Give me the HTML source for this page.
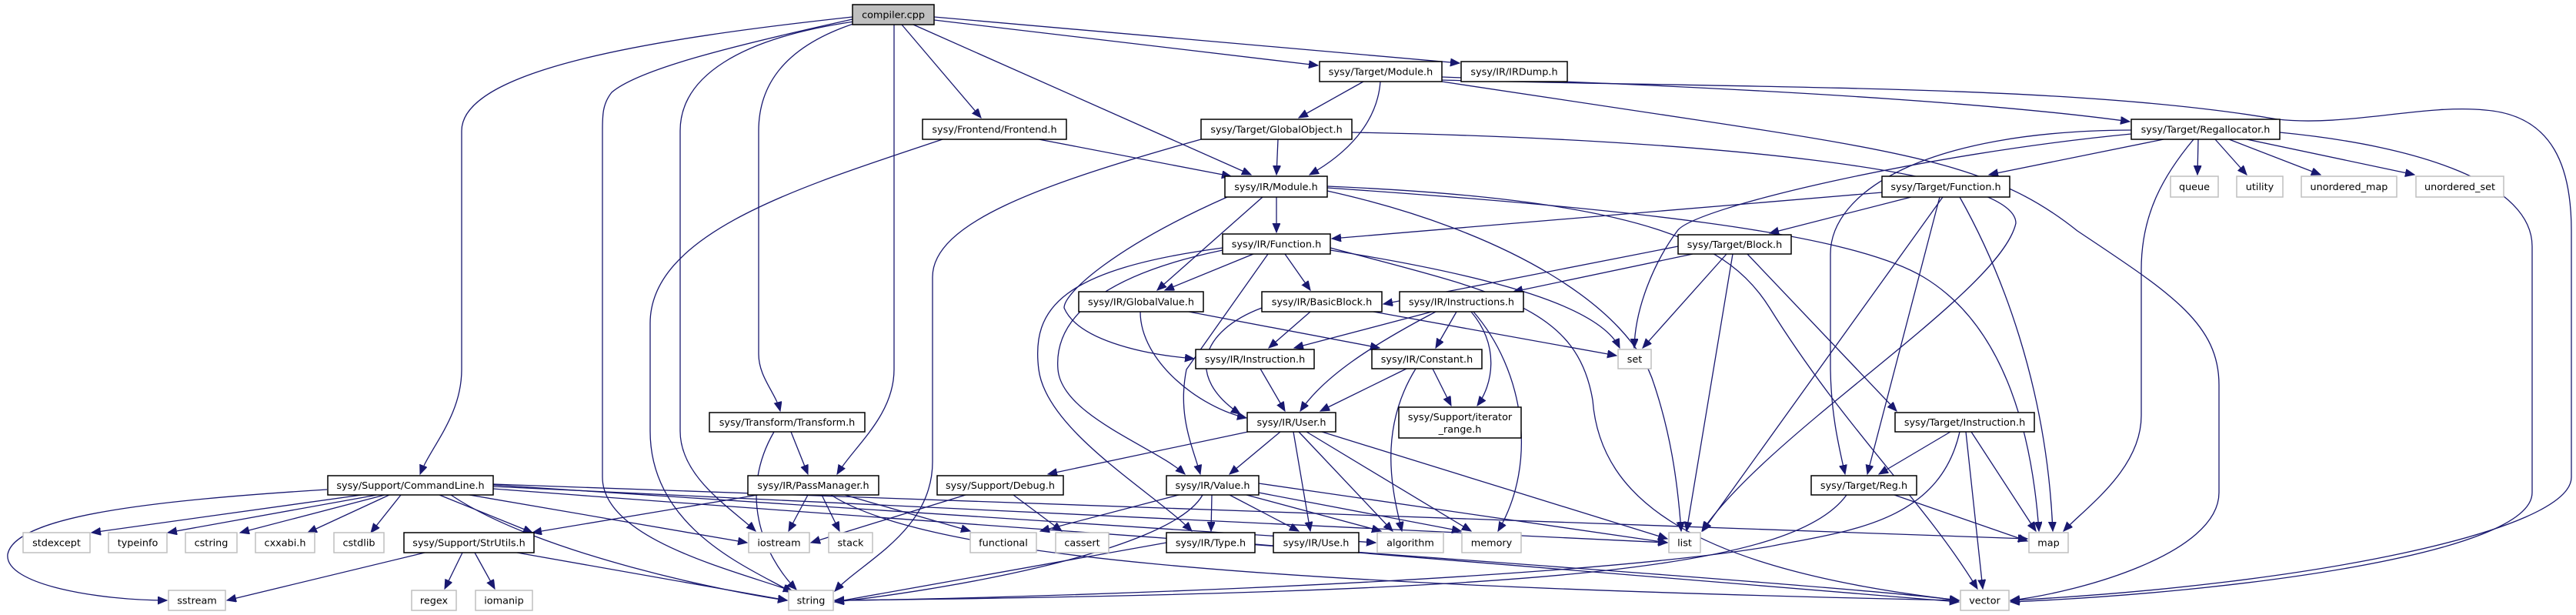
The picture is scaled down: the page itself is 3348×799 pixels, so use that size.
<!DOCTYPE html>
<html><head><meta charset="utf-8"><style>
html,body{margin:0;padding:0;background:#fff;}
svg{display:block;}
text{font-family:"DejaVu Sans","Liberation Sans",sans-serif;font-size:12.8px;fill:#000;}
.e{fill:none;stroke:#191970;stroke-width:1.3;marker-end:url(#a);}
.n{fill:#fff;stroke:#000;stroke-width:1.5;}
.g{fill:#fff;stroke:#bfbfbf;stroke-width:1.5;}
</style></head><body>
<svg width="3348" height="799" viewBox="0 0 3348 799" xmlns="http://www.w3.org/2000/svg">
<defs><marker id="a" markerUnits="userSpaceOnUse" markerWidth="14" markerHeight="12" refX="12" refY="5" orient="auto"><path d="M0,0 L12,5 L0,10 z" fill="#191970" stroke="#191970"/></marker></defs>
<g>
<!-- compiler -->
<path class="e" d="M1108,22 C850,50 600,90 600,170 L600,480 C600,540 560,580 546,616"/>
<path class="e" d="M1108,25 C950,60 830,90 795,120 C783,135 783,150 783,170 L783,620 C783,700 950,740 1030,768"/>
<path class="e" d="M1110,28 C960,50 884,100 884,170 L884,560 C884,620 950,660 982,690"/>
<path class="e" d="M1112,30 C1020,60 986,110 986,170 L986,460 C986,490 1008,510 1014,534"/>
<path class="e" d="M1162,32 L1162,480 C1162,540 1110,580 1088,616"/>
<path class="e" d="M1172,32 L1275,153"/>
<path class="e" d="M1187,32 L1626,227"/>
<path class="e" d="M1214,26 L1713,85"/>
<path class="e" d="M1214,22 L1897,82"/>
<!-- frontend -->
<path class="e" d="M1225,181 C1050,240 845,300 845,420 L845,560 C845,690 980,740 1030,770"/>
<path class="e" d="M1350,181 L1600,229"/>
<!-- globalobject -->
<path class="e" d="M1661,181 L1659,227"/>
<path class="e" d="M1561,181 C1350,240 1212,290 1212,360 L1212,600 C1212,690 1120,730 1085,768"/>
<path class="e" d="M1757,172 C2200,180 2620,220 2620,290 C2600,380 2300,560 2212,690"/>
<!-- target module -->
<path class="e" d="M1772,106 L1688,153"/>
<path class="e" d="M1794,106 C1790,160 1750,200 1702,227"/>
<path class="e" d="M1874,100 C2300,115 2600,135 2768,158"/>
<path class="e" d="M1874,104 C2300,115 2700,110 2960,155 C3050,165 3150,135 3230,143 C3320,150 3342,220 3342,300 L3342,620 C3342,690 3000,760 2613,780"/>
<path class="e" d="M1874,106 L2200,155 C2500,200 2600,220 2700,300 C2820,380 2884,420 2884,500 L2884,640 C2884,720 2700,770 2613,780"/>
<!-- regallocator -->
<path class="e" d="M2812,181 L2585,227"/>
<path class="e" d="M2857,181 L2856,227"/>
<path class="e" d="M2879,181 L2920,227"/>
<path class="e" d="M2897,181 L3016,227"/>
<path class="e" d="M2920,181 L3138,227"/>
<path class="e" d="M2963,172 C3150,190 3291,240 3291,320 L3291,640 C3291,720 2900,770 2613,782"/>
<path class="e" d="M2851,181 C2810,230 2783,280 2783,350 L2783,540 C2783,610 2710,660 2682,690"/>
<path class="e" d="M2770,169 C2500,170 2379,250 2379,330 L2379,480 C2380,540 2390,580 2398,616"/>
<path class="e" d="M2770,174 C2500,200 2200,270 2180,300 C2150,340 2125,400 2124,452"/>
<!-- target function -->
<path class="e" d="M2446,250 L1731,310"/>
<path class="e" d="M2484,256 L2300,303"/>
<path class="e" d="M2521,256 L2427,616"/>
<path class="e" d="M2525,256 L2213,690"/>
<path class="e" d="M2547,256 C2600,350 2660,500 2668,690"/>
<!-- target block -->
<path class="e" d="M2181,320 L1798,395"/>
<path class="e" d="M2200,330 L1967,379"/>
<path class="e" d="M2244,330 L2135,452"/>
<path class="e" d="M2252,330 L2192,690"/>
<path class="e" d="M2271,330 L2465,534"/>
<!-- target instruction -->
<path class="e" d="M2535,561 L2442,616"/>
<path class="e" d="M2562,561 L2646,690"/>
<path class="e" d="M2555,561 L2577,765"/>
<path class="e" d="M2547,561 C2520,680 2400,690 2300,710 C2000,760 1200,780 1085,780"/>
<!-- reg -->
<path class="e" d="M2462,643 L2635,703"/>
<path class="e" d="M2400,643 C2330,740 2000,770 1085,780"/>
<!-- IR module -->
<path class="e" d="M1659,256 L1659,302"/>
<path class="e" d="M1641,256 L1504,377"/>
<path class="e" d="M1595,256 C1450,320 1383,380 1383,400 C1400,440 1480,460 1552,466"/>
<path class="e" d="M1725,248 C1960,300 2120,400 2150,500 C2170,560 2180,620 2185,690"/>
<path class="e" d="M1725,244 C2100,270 2400,300 2500,360 C2600,420 2640,550 2650,690"/>
<path class="e" d="M1725,242 C2150,260 2250,320 2300,400 C2400,560 2500,650 2570,765"/>
<!-- IR function -->
<path class="e" d="M1629,330 L1514,377"/>
<path class="e" d="M1670,330 L1703,377"/>
<path class="e" d="M1648,330 L1542,480 C1530,540 1550,580 1560,616"/>
<path class="e" d="M1729,325 C1950,360 2080,400 2105,452"/>
<path class="e" d="M1729,322 C1950,380 2050,400 2070,520 C2080,650 2200,740 2546,780"/>
<path class="e" d="M1589,322 C1380,350 1340,400 1350,480 C1360,560 1500,640 1549,690"/>
<path class="e" d="M1589,325 C1420,360 1370,420 1375,480 C1380,540 1500,580 1540,616"/>
<!-- globalvalue / basicblock / instructions -->
<path class="e" d="M1482,405 C1482,470 1560,530 1620,543"/>
<path class="e" d="M1545,405 L1793,452"/>
<path class="e" d="M1703,405 L1649,452"/>
<path class="e" d="M1785,405 L2101,462"/>
<path class="e" d="M1640,400 C1560,430 1540,490 1612,538"/>
<path class="e" d="M1861,405 L1682,452"/>
<path class="e" d="M1866,405 C1780,450 1720,490 1690,534"/>
<path class="e" d="M1893,405 L1866,452"/>
<path class="e" d="M1912,405 C1950,450 1940,500 1920,527"/>
<path class="e" d="M1915,405 C1980,480 2000,600 1947,690"/>
<path class="e" d="M1828,479 L1716,534"/>
<path class="e" d="M1862,479 L1886,527"/>
<path class="e" d="M1840,479 C1790,560 1810,640 1822,690"/>
<path class="e" d="M1638,479 L1670,534"/>
<!-- user -->
<path class="e" d="M1622,561 L1362,616"/>
<path class="e" d="M1664,561 L1598,616"/>
<path class="e" d="M1681,561 L1703,690"/>
<path class="e" d="M1688,561 L1810,690"/>
<path class="e" d="M1698,561 L1912,690"/>
<path class="e" d="M1718,561 L2167,700"/>
<!-- value -->
<path class="e" d="M1532,643 L1352,690"/>
<path class="e" d="M1575,643 L1574,690"/>
<path class="e" d="M1598,643 L1688,690"/>
<path class="e" d="M1620,643 L1795,690"/>
<path class="e" d="M1636,640 L1899,690"/>
<path class="e" d="M1636,628 L2167,705"/>
<path class="e" d="M1563,643 C1520,720 1200,770 1085,782"/>
<!-- debug / type -->
<path class="e" d="M1255,643 L1054,705"/>
<path class="e" d="M1317,643 L1380,690"/>
<path class="e" d="M1516,705 L1085,782"/>
<path class="e" d="M1631,707 L2546,782"/>
<!-- passmanager / transform -->
<path class="e" d="M1050,643 L1025,690"/>
<path class="e" d="M1068,643 L1091,690"/>
<path class="e" d="M1098,643 L1261,690"/>
<path class="e" d="M985,643 L692,692"/>
<path class="e" d="M1080,643 C1200,720 1600,760 2546,780"/>
<path class="e" d="M1028,561 L1050,616"/>
<path class="e" d="M1006,561 C960,640 990,720 1035,766"/>
<!-- commandline -->
<path class="e" d="M470,643 L119,692"/>
<path class="e" d="M490,643 L218,692"/>
<path class="e" d="M500,643 L312,692"/>
<path class="e" d="M506,643 L400,692"/>
<path class="e" d="M521,643 L482,692"/>
<path class="e" d="M425,636 C200,650 20,670 10,720 C5,760 130,780 217,780"/>
<path class="e" d="M571,643 L692,692"/>
<path class="e" d="M610,643 L971,705"/>
<path class="e" d="M586,643 C700,720 950,770 1023,780"/>
<path class="e" d="M641,630 L1788,705"/>
<path class="e" d="M641,632 L2167,705"/>
<path class="e" d="M641,635 C1500,700 2400,760 2546,780"/>
<path class="e" d="M641,629 L2635,700"/>
<!-- strutils -->
<path class="e" d="M552,718 L295,780"/>
<path class="e" d="M601,718 L578,765"/>
<path class="e" d="M617,718 L643,765"/>
<path class="e" d="M672,718 L1023,780"/>
</g>
<g text-anchor="middle">
<rect x="1108" y="6" width="106" height="26" fill="#bfbfbf" stroke="#000" stroke-width="1.5"/><text x="1161" y="23.5">compiler.cpp</text>
<rect class="n" x="1715" y="80" width="159" height="26"/><text x="1794.5" y="97.5">sysy/Target/Module.h</text>
<rect class="n" x="1899" y="80" width="138" height="26"/><text x="1968" y="97.5">sysy/IR/IRDump.h</text>
<rect class="n" x="1199" y="155" width="187" height="26"/><text x="1292.5" y="172.5">sysy/Frontend/Frontend.h</text>
<rect class="n" x="1561" y="155" width="196" height="26"/><text x="1659" y="172.5">sysy/Target/GlobalObject.h</text>
<rect class="n" x="2770" y="155" width="193" height="26"/><text x="2866.5" y="172.5">sysy/Target/Regallocator.h</text>
<rect class="n" x="1592" y="229" width="133" height="27"/><text x="1658.5" y="247">sysy/IR/Module.h</text>
<rect class="n" x="2446" y="229" width="166" height="27"/><text x="2529" y="247">sysy/Target/Function.h</text>
<rect class="g" x="2821" y="229" width="62" height="27"/><text x="2852" y="247">queue</text>
<rect class="g" x="2907" y="229" width="60" height="27"/><text x="2937" y="247">utility</text>
<rect class="g" x="2991" y="229" width="124" height="27"/><text x="3053" y="247">unordered_map</text>
<rect class="g" x="3140" y="229" width="114" height="27"/><text x="3197" y="247">unordered_set</text>
<rect class="n" x="1589" y="304" width="140" height="26"/><text x="1659" y="321.5">sysy/IR/Function.h</text>
<rect class="n" x="2181" y="305" width="147" height="25"/><text x="2254.5" y="322">sysy/Target/Block.h</text>
<rect class="n" x="1402" y="379" width="162" height="26"/><text x="1483" y="396.5">sysy/IR/GlobalValue.h</text>
<rect class="n" x="1640" y="379" width="156" height="26"/><text x="1718" y="396.5">sysy/IR/BasicBlock.h</text>
<rect class="n" x="1819" y="379" width="161" height="26"/><text x="1899.5" y="396.5">sysy/IR/Instructions.h</text>
<rect class="n" x="1554" y="454" width="154" height="25"/><text x="1631" y="471">sysy/IR/Instruction.h</text>
<rect class="n" x="1783" y="454" width="143" height="25"/><text x="1854.5" y="471">sysy/IR/Constant.h</text>
<rect class="g" x="2103" y="454" width="43" height="25"/><text x="2124.5" y="471">set</text>
<rect class="n" x="922" y="536" width="202" height="25"/><text x="1023" y="553">sysy/Transform/Transform.h</text>
<rect class="n" x="1621" y="536" width="115" height="25"/><text x="1678.5" y="553">sysy/IR/User.h</text>
<rect class="n" x="1818" y="529" width="159" height="40"/><text x="1897.5" y="546">sysy/Support/iterator</text><text x="1897.5" y="562">_range.h</text>
<rect class="n" x="2463" y="536" width="181" height="25"/><text x="2553.5" y="553">sysy/Target/Instruction.h</text>
<rect class="n" x="426" y="618" width="215" height="25"/><text x="533.5" y="635">sysy/Support/CommandLine.h</text>
<rect class="n" x="972" y="618" width="170" height="25"/><text x="1057" y="635">sysy/IR/PassManager.h</text>
<rect class="n" x="1218" y="618" width="164" height="25"/><text x="1300" y="635">sysy/Support/Debug.h</text>
<rect class="n" x="1516" y="618" width="120" height="25"/><text x="1576" y="635">sysy/IR/Value.h</text>
<rect class="n" x="2354" y="618" width="137" height="25"/><text x="2422.5" y="635">sysy/Target/Reg.h</text>
<rect class="g" x="30" y="692" width="87" height="26"/><text x="73.5" y="709.5">stdexcept</text>
<rect class="g" x="141" y="692" width="76" height="26"/><text x="179" y="709.5">typeinfo</text>
<rect class="g" x="241" y="692" width="67" height="26"/><text x="274.5" y="709.5">cstring</text>
<rect class="g" x="332" y="692" width="77" height="26"/><text x="370.5" y="709.5">cxxabi.h</text>
<rect class="g" x="434" y="692" width="65" height="26"/><text x="466.5" y="709.5">cstdlib</text>
<rect class="n" x="525" y="692" width="169" height="26"/><text x="609.5" y="709.5">sysy/Support/StrUtils.h</text>
<rect class="g" x="973" y="692" width="79" height="26"/><text x="1012.5" y="709.5">iostream</text>
<rect class="g" x="1077" y="692" width="57" height="26"/><text x="1105.5" y="709.5">stack</text>
<rect class="g" x="1261" y="692" width="86" height="26"/><text x="1304" y="709.5">functional</text>
<rect class="g" x="1372" y="692" width="69" height="26"/><text x="1406.5" y="709.5">cassert</text>
<rect class="n" x="1516" y="692" width="115" height="26"/><text x="1573.5" y="709.5">sysy/IR/Type.h</text>
<rect class="n" x="1655" y="692" width="111" height="26"/><text x="1710.5" y="709.5">sysy/IR/Use.h</text>
<rect class="g" x="1790" y="692" width="86" height="26"/><text x="1833" y="709.5">algorithm</text>
<rect class="g" x="1900" y="692" width="77" height="26"/><text x="1938.5" y="709.5">memory</text>
<rect class="g" x="2169" y="692" width="41" height="26"/><text x="2189.5" y="709.5">list</text>
<rect class="g" x="2637" y="692" width="51" height="26"/><text x="2662.5" y="709.5">map</text>
<rect class="g" x="219" y="767" width="74" height="26"/><text x="256" y="784.5">sstream</text>
<rect class="g" x="535" y="767" width="58" height="26"/><text x="564" y="784.5">regex</text>
<rect class="g" x="618" y="767" width="74" height="26"/><text x="655" y="784.5">iomanip</text>
<rect class="g" x="1025" y="767" width="58" height="26"/><text x="1054" y="784.5">string</text>
<rect class="g" x="2548" y="767" width="63" height="26"/><text x="2579.5" y="784.5">vector</text>
</g>
</svg>
</body></html>
